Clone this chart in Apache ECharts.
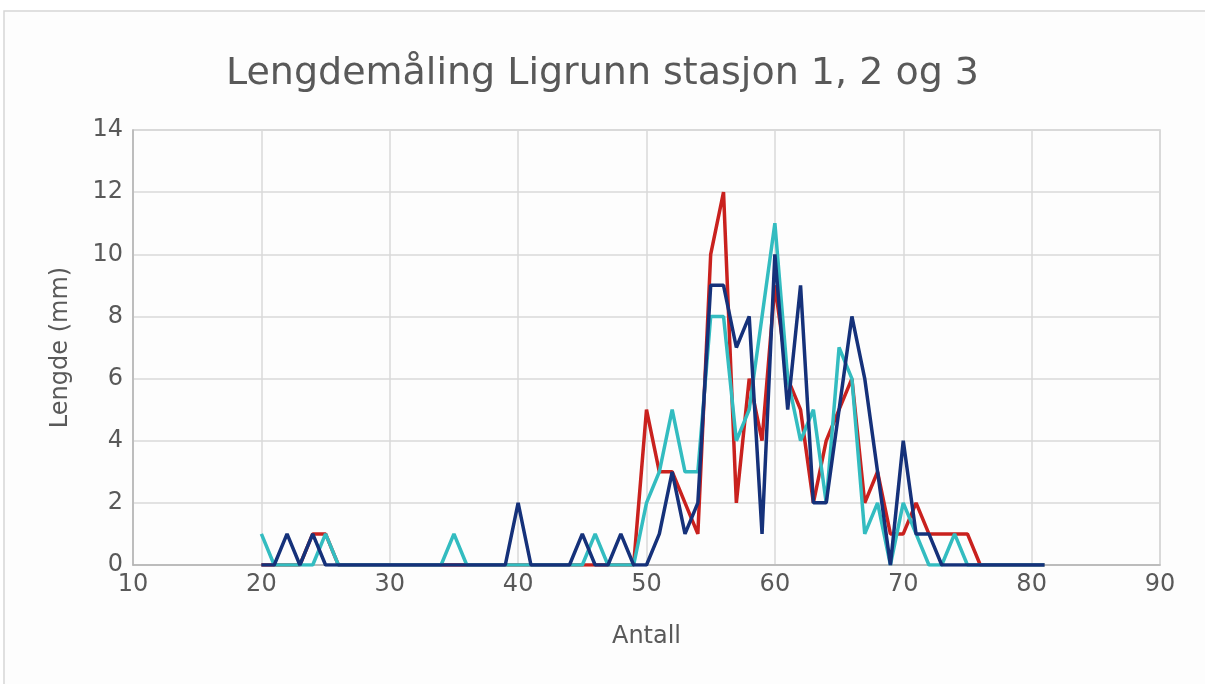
<!DOCTYPE html>
<html>
<head>
<meta charset="utf-8">
<script src="https://cdn.jsdelivr.net/npm/echarts@6/dist/echarts.min.js"></script>
<style>
  html, body { margin: 0; padding: 0; background: #fff; }
  #chart { width: 1205px; height: 684px; }
</style>
</head>
<body>
<div id="chart"></div>
<script>
// x values (Antall) 20..81
const xValues = [20, 21, 22, 23, 24, 25, 26, 27, 28, 29, 30, 31, 32, 33, 34, 35, 36, 37, 38, 39,
  40, 41, 42, 43, 44, 45, 46, 47, 48, 49, 50, 51, 52, 53, 54, 55, 56, 57, 58, 59,
  60, 61, 62, 63, 64, 65, 66, 67, 68, 69, 70, 71, 72, 73, 74, 75, 76, 77, 78, 79, 80, 81];

const stasjon1 = [0, 0, 0, 0, 1, 1, 0, 0, 0, 0, 0, 0, 0, 0, 0, 0, 0, 0, 0, 0,
  0, 0, 0, 0, 0, 0, 0, 0, 0, 0, 5, 3, 3, 2, 1, 10, 12, 2, 6, 4,
  9, 6, 5, 2, 4, 5, 6, 2, 3, 1, 1, 2, 1, 1, 1, 1, 0, 0, 0, 0, 0, 0];

const stasjon2 = [1, 0, 0, 0, 0, 1, 0, 0, 0, 0, 0, 0, 0, 0, 0, 1, 0, 0, 0, 0,
  0, 0, 0, 0, 0, 0, 1, 0, 0, 0, 2, 3, 5, 3, 3, 8, 8, 4, 5, 8,
  11, 6, 4, 5, 2, 7, 6, 1, 2, 0, 2, 1, 0, 0, 1, 0, 0, 0, 0, 0, 0, 0];

const stasjon3 = [0, 0, 1, 0, 1, 0, 0, 0, 0, 0, 0, 0, 0, 0, 0, 0, 0, 0, 0, 0,
  2, 0, 0, 0, 0, 1, 0, 0, 1, 0, 0, 1, 3, 1, 2, 9, 9, 7, 8, 1,
  10, 5, 9, 2, 2, 5, 8, 6, 3, 0, 4, 1, 1, 0, 0, 0, 0, 0, 0, 0, 0, 0];

const seriesNames = ["Stasjon 1", "Stasjon 2", "Stasjon 3"];
const seriesColors = ["#c9211e", "#33bcc0", "#15317a"];

const TEXT = "#595959";

const chart = echarts.init(document.getElementById("chart"));

const toPairs = (ys) => xValues.map((x, i) => [x, ys[i]]);

chart.setOption({
  animation: false,
  backgroundColor: "#fff",
  textStyle: { fontFamily: "DejaVu Sans" },
  title: {
    text: "Lengdemåling Ligrunn stasjon 1, 2 og 3",
    left: "center",
    top: 50,
    textStyle: { color: TEXT, fontSize: 38, fontWeight: "normal", fontFamily: "DejaVu Sans" }
  },
  graphic: [
    {
      type: "rect",
      z: -1,
      shape: { x: 4, y: 11, width: 1400, height: 900 },
      style: { fill: "#fdfdfd", stroke: "#d6d6d6", lineWidth: 1.5 }
    },
    {
      // plot area frame
      type: "rect",
      z: 0,
      silent: true,
      shape: { x: 133, y: 130, width: 1027, height: 435 },
      style: { fill: "none", stroke: "#d0d0d0", lineWidth: 1.5 }
    }
  ],
  grid: { left: 133, right: 45, top: 130, bottom: 119 },
  xAxis: {
    type: "value",
    min: 10,
    max: 90,
    interval: 10,
    name: "Antall",
    nameLocation: "middle",
    nameGap: 60,
    nameTextStyle: { color: TEXT, fontSize: 24 },
    axisLine: { show: true, lineStyle: { color: "#b3b3b3", width: 1.5 } },
    axisTick: { show: false },
    axisLabel: { color: TEXT, fontSize: 24, margin: 8 },
    splitLine: { show: true, lineStyle: { color: "#d9d9d9", width: 1.5 } }
  },
  yAxis: {
    type: "value",
    min: 0,
    max: 14,
    interval: 2,
    name: "Lengde (mm)",
    nameLocation: "middle",
    nameGap: 60,
    nameTextStyle: { color: TEXT, fontSize: 24 },
    axisLine: { show: true, lineStyle: { color: "#b3b3b3", width: 1.5 } },
    axisTick: { show: false },
    axisLabel: { color: TEXT, fontSize: 24, margin: 10 },
    splitLine: { show: true, lineStyle: { color: "#d9d9d9", width: 1.5 } }
  },
  series: seriesNames.map((name, i) => ({
    name,
    type: "line",
    data: toPairs([stasjon1, stasjon2, stasjon3][i]),
    showSymbol: false,
    symbol: "none",
    lineStyle: { color: seriesColors[i], width: 3.5 },
    itemStyle: { color: seriesColors[i] }
  }))
});
</script>
</body>
</html>
